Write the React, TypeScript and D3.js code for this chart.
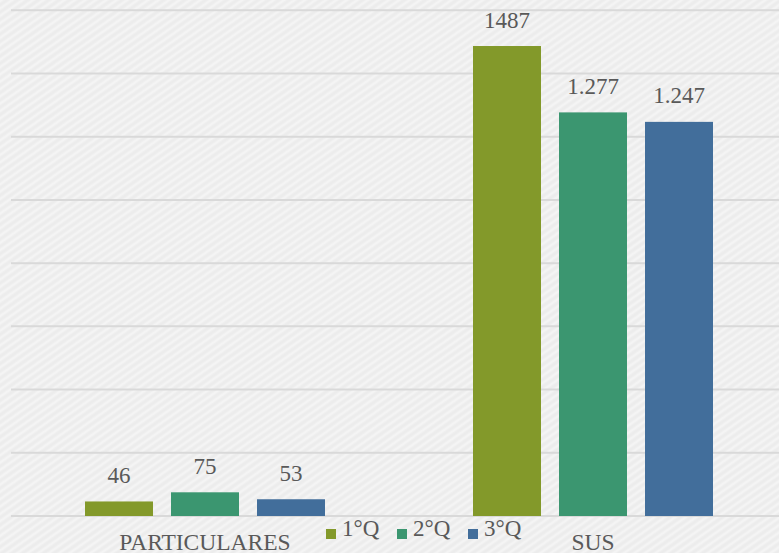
import { useMemo } from "react";
import * as d3 from "d3";

const categories = ["PARTICULARES", "SUS"];
const series = ["1°Q", "2°Q", "3°Q"];
const values = [
  [46, 1487],
  [75, 1277],
  [53, 1247],
];
const valueLabels = [
  ["46", "1487"],
  ["75", "1.277"],
  ["53", "1.247"],
];
const colors = ["#83992a", "#3b9670", "#426e9b"];
const yTicks = [0, 200, 400, 600, 800, 1000, 1200, 1400, 1600];

const W = 779;
const H = 553;
const font = "'Liberation Serif', 'Times New Roman', serif";

const App = () => {
  const x = useMemo(
    () => d3.scaleBand().domain(categories).range([11, 787]).paddingInner(0).paddingOuter(0),
    []
  );
  const xInner = useMemo(
    () => d3.scaleBand().domain(series).range([74, 314]).paddingInner(18 / 86).paddingOuter(0),
    []
  );
  const y = useMemo(() => d3.scaleLinear().domain([0, 1600]).range([516, 10.3]), []);

  return (
    <svg
      width={W}
      height={H}
      style={{ position: "absolute", left: 0, top: 0, display: "block" }}
    >
      <defs>
        <pattern id="tex" width="6" height="6" patternUnits="userSpaceOnUse" patternTransform="rotate(-35)">
          <rect width="6" height="6" fill="#efefef" />
          <line x1="0" y1="1" x2="6" y2="1" stroke="#f6f6f6" strokeWidth="1.5" />
          <line x1="0" y1="4" x2="6" y2="4" stroke="#e9e9e9" strokeWidth="0.8" />
        </pattern>
      </defs>
      <rect width={W} height={H} fill="url(#tex)" />

      {yTicks.map((t) => (
        <line key={t} x1={11} x2={W} y1={y(t)} y2={y(t)} stroke="#d9d9d9" strokeWidth={2} />
      ))}

      {categories.map((c, ci) => (
        <g key={c} transform={`translate(${x(c)},0)`}>
          {series.map((s, si) => {
            const v = values[si][ci];
            const bx = xInner(s)!;
            return (
              <g key={s}>
                <rect
                  x={bx}
                  y={y(v)}
                  width={xInner.bandwidth()}
                  height={y(0) - y(v)}
                  fill={colors[si]}
                />
                <text
                  x={bx + xInner.bandwidth() / 2}
                  y={y(v) - 18.5}
                  textAnchor="middle"
                  fontFamily={font}
                  fontSize={23}
                  fill="#595959"
                >
                  {valueLabels[si][ci]}
                </text>
              </g>
            );
          })}
          <text
            x={x.bandwidth() / 2}
            y={549.5}
            textAnchor="middle"
            fontFamily={font}
            fontSize={23.5}
            fill="#595959"
          >
            {c}
          </text>
        </g>
      ))}

      {series.map((s, i) => {
        const lx = [326, 397, 468][i];
        return (
          <g key={s}>
            <rect x={lx} y={529} width={10} height={10} fill={colors[i]} />
            <text x={lx + 16} y={536} fontFamily={font} fontSize={23} fill="#595959">
              {s}
            </text>
          </g>
        );
      })}
    </svg>
  );
};

export default App;
